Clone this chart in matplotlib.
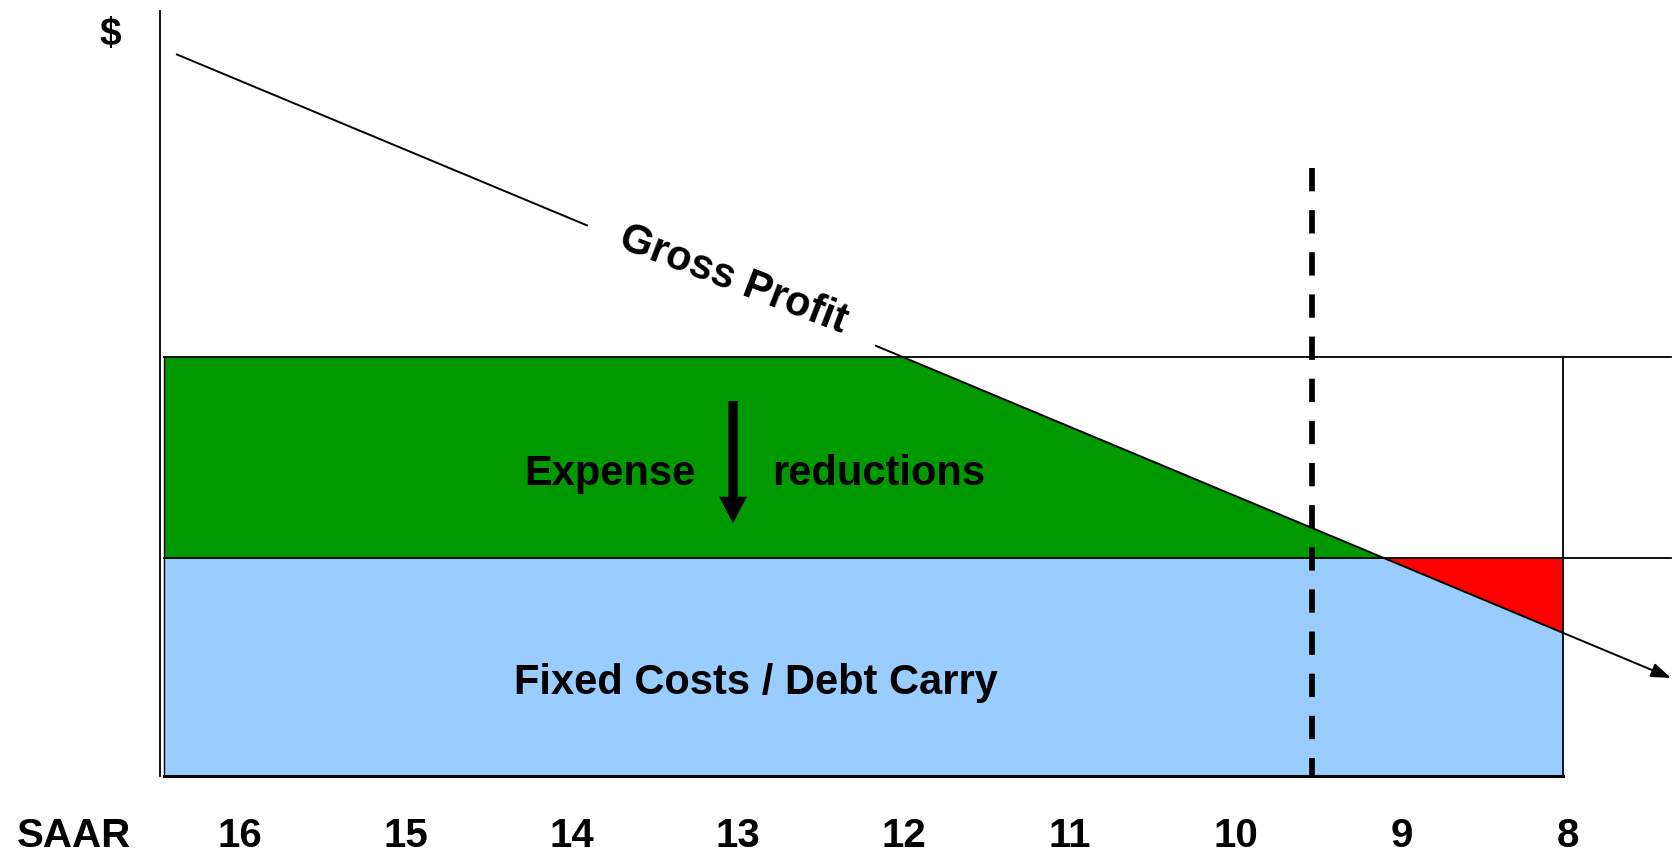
import numpy as np
import matplotlib
matplotlib.use("Agg")
from matplotlib import pyplot as plt

plt.rcParams['font.family'] = ['Liberation Sans', 'DejaVu Sans']

# SAAR (x) runs from 16 down to 8, $ (y) arbitrary units
saar_ticks = [16, 15, 14, 13, 12, 11, 10, 9, 8]
fixed_costs = 10.0          # fixed costs / debt carry
total_costs = 19.2          # costs before expense reductions
gp_saar = [16.38, 12.0, 8.0, 7.38]   # gross profit line
gp_value = [33.1, 19.2, 6.47, 4.5]
dashed_saar = 9.54          # dashed marker line
dashed_top = 27.9

green = '#009900'
blue = '#99CCFF'
red = '#FF0000'

def gp(s):
    return np.interp(s, gp_saar[::-1], gp_value[::-1])

def gp_cross(v):
    return np.interp(v, gp_value[::-1], gp_saar[::-1])

s_left = 16.46
s_right = 8.03
s_end = gp_saar[-1]
cross_total = gp_cross(total_costs)
cross_fixed = gp_cross(fixed_costs)

fig = plt.figure(figsize=(16.74, 8.56), dpi=100)
ax = fig.add_axes([0, 0, 1, 1])
ax.set_xlim(17.446, 7.361)
ax.set_ylim(-3.67, 35.6)
ax.axis('off')

# fixed costs block
ax.fill_between([s_left, s_right], 0, fixed_costs, color=blue, lw=0)
# expense reductions (green) down to where gross profit meets fixed costs
gx = np.array([s_left, cross_total, cross_fixed])
ax.fill_between(gx, fixed_costs, gp(gx).clip(max=total_costs), color=green, lw=0)
# loss triangle
rx = np.array([cross_fixed, s_right])
ax.fill_between(rx, gp(rx), fixed_costs, color=red, lw=0)

# outlines
ax.plot([s_left, s_end], [total_costs, total_costs], color='k', lw=1.3)
ax.plot([s_left, s_end], [fixed_costs, fixed_costs], color='k', lw=1.3)
ax.plot([s_right, s_right], [0, total_costs], color='k', lw=1.3)
ax.plot([s_left, s_left], [0, total_costs], color='k', lw=1.0)
ax.plot([s_left, s_right], [0, 0], color='k', lw=2.2)
ax.plot([16.48, 16.48], [0, 35.1], color='k', lw=1.3)

# gross profit line, broken for its label
s1 = np.array([gp_saar[0], 13.91])
ax.plot(s1, gp(s1), color='k', lw=1.4)
ax.annotate('', xy=(s_end, gp(s_end)), xytext=(12.17, gp(12.17)),
            arrowprops=dict(arrowstyle='-|>,head_length=0.6,head_width=0.22',
                            mutation_scale=20, color='k', lw=1.4,
                            shrinkA=0, shrinkB=0))
ax.text(13.03, 22.75, 'Gross Profit', fontsize=30, fontweight='bold',
        rotation=-21, rotation_mode='anchor', ha='center', va='center')

# dashed vertical
ax.plot([dashed_saar, dashed_saar], [dashed_top, 0], color='k', lw=4.1,
        dashes=(4.1, 3.3))

# expense reduction arrow
ax.annotate('', xy=(13.03, 11.6), xytext=(13.03, 17.2),
            arrowprops=dict(arrowstyle='simple,head_length=0.95,head_width=1.0,tail_width=0.33',
                            mutation_scale=20, color='k', lw=0,
                            shrinkA=0, shrinkB=0))

ax.text(13.77, 13.35, 'Expense', fontsize=30, fontweight='bold',
        ha='center', va='baseline')
ax.text(12.15, 13.35, 'reductions', fontsize=30, fontweight='bold',
        ha='center', va='baseline')
ax.text(12.89, 3.76, 'Fixed Costs / Debt Carry', fontsize=30,
        fontweight='bold', ha='center', va='baseline')

ax.text(16.78, 34.0, '$', fontsize=28, fontweight='bold',
        ha='center', va='center')
ax.text(17.0, -2.75, 'SAAR', fontsize=29, fontweight='bold',
        ha='center', va='center')
for t in saar_ticks:
    ax.text(t, -2.75, str(t), fontsize=29, fontweight='bold',
            ha='center', va='center')

fig.savefig('out.png', dpi=100)
